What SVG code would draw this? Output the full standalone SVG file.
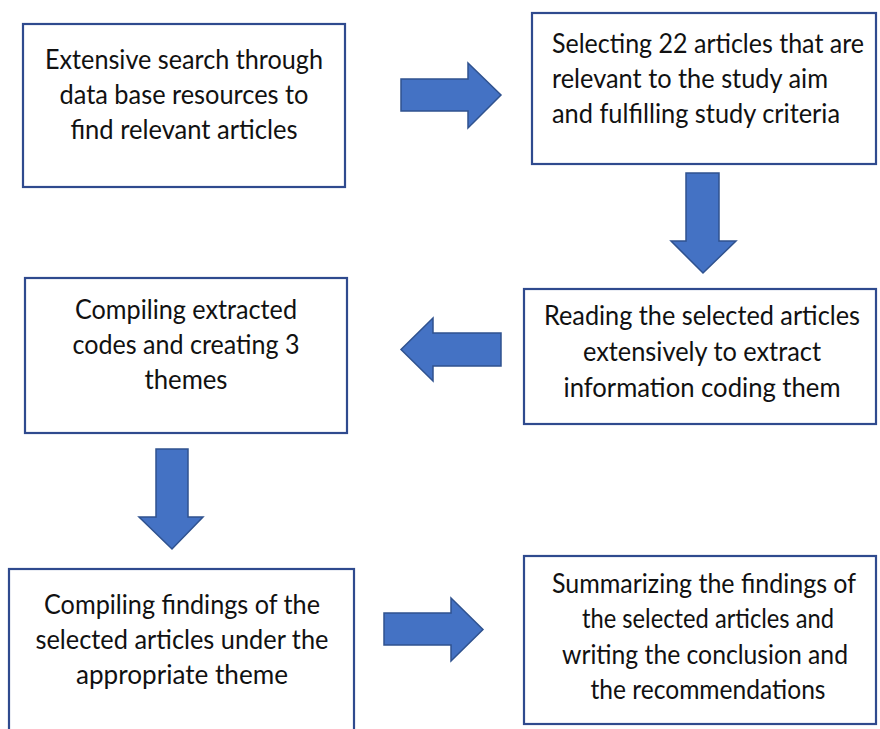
<svg xmlns="http://www.w3.org/2000/svg" width="880" height="729" viewBox="0 0 880 729">
<style>
.box{fill:#fff;stroke:#2F4A8E;stroke-width:2.2}
.arr{fill:#4472C4;stroke:#2F528F;stroke-width:1.5;stroke-linejoin:miter}
text{font-family:Lato,"Liberation Sans",sans-serif;font-size:26px;fill:#111}
.c{text-anchor:middle}
.t{font-size:27px}
</style>
<rect width="880" height="729" fill="#fff"/>
<g id="connectors">
<polygon class="arr" points="401,79 468,79 468,63 501,95 468,128 468,111 401,111"/>
<polygon class="arr" points="686,173 719,173 719,241 736,241 703,273 671,241 686,241"/>
<polygon class="arr" points="501,333 433,333 433,318 401,349.5 433,381 433,366 501,366"/>
<polygon class="arr" points="156,449 188,449 188,517 203,517 172,549 139,517 156,517"/>
<polygon class="arr" points="384,613 451,613 451,598 483,629.5 451,661 451,645 384,645"/>
</g>
<g id="n1">
<rect class="box" x="23" y="24" width="322" height="163"/>
<text class="c" x="184" y="69" textLength="278" lengthAdjust="spacingAndGlyphs">Extensive search through</text>
<text class="c" x="184" y="104" textLength="249" lengthAdjust="spacingAndGlyphs">data base resources to</text>
<text class="c" x="184" y="139" textLength="227" lengthAdjust="spacingAndGlyphs">find relevant articles</text>
</g>
<g id="n2">
<rect class="box" x="532" y="13" width="344" height="151"/>
<text x="552" y="53" textLength="312" lengthAdjust="spacingAndGlyphs">Selecting 22 articles that are</text>
<text x="552" y="88" textLength="276" lengthAdjust="spacingAndGlyphs">relevant to the study aim</text>
<text x="552" y="123" textLength="288" lengthAdjust="spacingAndGlyphs">and fulfilling study criteria</text>
</g>
<g id="n3">
<rect class="box" x="524" y="289" width="352" height="135"/>
<text class="c" x="702" y="325" textLength="316" lengthAdjust="spacingAndGlyphs">Reading the selected articles</text>
<text class="c" x="702" y="361" textLength="238" lengthAdjust="spacingAndGlyphs">extensively to extract</text>
<text class="c" x="702" y="397" textLength="277" lengthAdjust="spacingAndGlyphs">information coding them</text>
</g>
<g id="n4">
<rect class="box" x="25" y="278" width="322" height="155"/>
<text class="c" x="186" y="319" textLength="222" lengthAdjust="spacingAndGlyphs">Compiling extracted</text>
<text class="c" x="186" y="354" textLength="227" lengthAdjust="spacingAndGlyphs">codes and creating 3</text>
<text class="c" x="186" y="389" textLength="83" lengthAdjust="spacingAndGlyphs">themes</text>
</g>
<g id="n5">
<rect class="box" x="9" y="569" width="345" height="170"/>
<text class="c t" x="182" y="614" textLength="276" lengthAdjust="spacingAndGlyphs">Compiling findings of the</text>
<text class="c t" x="182" y="649" textLength="293" lengthAdjust="spacingAndGlyphs">selected articles under the</text>
<text class="c t" x="182" y="684" textLength="212" lengthAdjust="spacingAndGlyphs">appropriate theme</text>
</g>
<g id="n6">
<rect class="box" x="524" y="556" width="352" height="168"/>
<text class="c t" x="704" y="593" textLength="304" lengthAdjust="spacingAndGlyphs">Summarizing the findings of</text>
<text class="c t" x="708" y="628" textLength="252" lengthAdjust="spacingAndGlyphs">the selected articles and</text>
<text class="c t" x="705" y="664" textLength="286" lengthAdjust="spacingAndGlyphs">writing the conclusion and</text>
<text class="c t" x="708" y="699" textLength="235" lengthAdjust="spacingAndGlyphs">the recommendations</text>
</g>
</svg>
